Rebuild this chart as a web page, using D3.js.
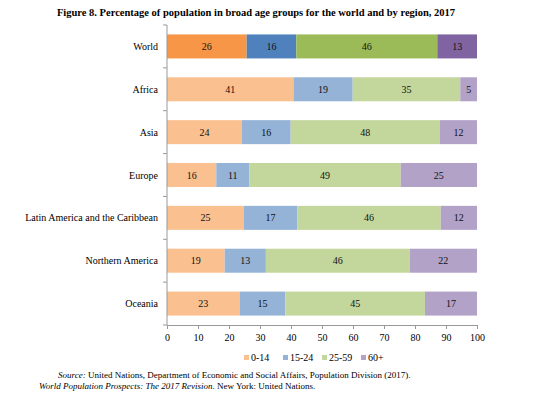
<!DOCTYPE html>
<html>
<head>
<meta charset="utf-8">
<script src="https://cdn.jsdelivr.net/npm/d3@7"></script>
<style>
  body { margin: 0; background: #fff; }
  text { font-family: "Liberation Serif", "Times New Roman", serif; }
</style>
</head>
<body>
<div id="chart"></div>
<script>

// data (percent of population)
let regions = ["World", "Africa", "Asia", "Europe", "Latin America and the Caribbean", "Northern America", "Oceania"];
let ageGroups = ["0-14", "15-24", "25-59", "60+"];
let age0to14 = [25.7, 40.8, 24.2, 15.9, 24.8, 18.6, 23.4];
let age15to24 = [16.0, 19.1, 15.7, 10.6, 17.2, 13.3, 14.8];
let age25to59 = [45.5, 34.7, 48.1, 48.9, 46.3, 46.4, 45.0];
let age60plus = [12.8, 5.4, 12.0, 24.6, 11.7, 21.7, 16.8];
let xTicks = [0, 10, 20, 30, 40, 50, 60, 70, 80, 90, 100];

let series = [age0to14, age15to24, age25to59, age60plus];

// world row is drawn darker than the regions
let darkColors = ["#F79646", "#4F81BD", "#9BBB59", "#8064A2"];
let lightColors = ["#FAC090", "#95B3D7", "#C3D69B", "#B3A2C7"];

let width = 550, height = 400;
let margin = {top: 25, right: 73, bottom: 75, left: 167};

let svg = d3.select("#chart").append("svg")
    .attr("width", width)
    .attr("height", height);

// title
svg.append("text")
    .attr("x", 256)
    .attr("y", 16)
    .attr("text-anchor", "middle")
    .attr("font-size", "10.5px")
    .attr("font-weight", "bold")
    .text("Figure 8.  Percentage of population in broad age groups for the world and by region, 2017");

let g = svg.append("g")
    .attr("transform", "translate(" + margin.left + "," + margin.top + ")");

let w = width - margin.left - margin.right,
    h = height - margin.top - margin.bottom;

let xScale = d3.scaleLinear()
    .domain([0, 100])
    .range([0, w]);

let yScale = d3.scaleBand()
    .domain(regions)
    .range([0, h])
    .paddingInner(0.44)
    .paddingOuter(0.22);

// build rows of stacked segments
let rows = regions.map((r, i) => {
    let row = {region: r};
    ageGroups.forEach((a, j) => row[a] = series[j][i]);
    return row;
});

let stack = d3.stack().keys(ageGroups);
let stacked = stack(rows);

let layers = g.selectAll(".layer")
    .data(stacked)
    .enter().append("g")
    .attr("class", "layer");

layers.selectAll("rect")
    .data((d, j) => d.map(s => ({s: s, j: j})))
    .enter().append("rect")
    .attr("x", d => xScale(d.s[0]))
    .attr("y", d => yScale(d.s.data.region))
    .attr("width", d => xScale(d.s[1]) - xScale(d.s[0]))
    .attr("height", yScale.bandwidth())
    .attr("fill", d => d.s.data.region == "World" ? darkColors[d.j] : lightColors[d.j]);

layers.selectAll("text")
    .data((d, j) => d.map(s => ({s: s, j: j})))
    .enter().append("text")
    .attr("x", d => (xScale(d.s[0]) + xScale(d.s[1])) / 2)
    .attr("y", d => yScale(d.s.data.region) + yScale.bandwidth() / 2 + 3.5)
    .attr("text-anchor", "middle")
    .attr("font-size", "10px")
    .attr("fill", "#111")
    .text(d => Math.round(d.s[1] - d.s[0]));

// x axis
let xAxis = d3.axisBottom(xScale)
    .tickValues(xTicks)
    .tickSize(4)
    .tickSizeOuter(0);

let xAxisGroup = g.append("g")
    .attr("class", "axis x-axis")
    .attr("transform", "translate(0," + h + ")")
    .call(xAxis);

xAxisGroup.select(".domain").attr("stroke", "#999");
xAxisGroup.selectAll(".tick line").attr("stroke", "#999");
xAxisGroup.selectAll(".tick text")
    .attr("font-family", "Liberation Serif, serif")
    .attr("font-size", "10px")
    .attr("fill", "#000")
    .attr("dy", "0.85em");

// y axis: line with ticks between categories
let yAxisGroup = g.append("g").attr("class", "axis y-axis");
yAxisGroup.append("line")
    .attr("x1", 0).attr("x2", 0)
    .attr("y1", 0).attr("y2", h)
    .attr("stroke", "#999");

let boundaries = d3.range(regions.length + 1).map(i => i * h / regions.length);
yAxisGroup.selectAll(".ytick")
    .data(boundaries)
    .enter().append("line")
    .attr("class", "ytick")
    .attr("x1", -4).attr("x2", 0)
    .attr("y1", d => d).attr("y2", d => d)
    .attr("stroke", "#999");

yAxisGroup.selectAll(".ylabel")
    .data(regions)
    .enter().append("text")
    .attr("class", "ylabel")
    .attr("x", -9)
    .attr("y", d => yScale(d) + yScale.bandwidth() / 2 + 3.5)
    .attr("text-anchor", "end")
    .attr("font-size", "10px")
    .text(d => d);

// legend
let legendX = [244, 283, 322, 361];
let legend = svg.append("g").attr("class", "legend");
ageGroups.forEach((a, j) => {
    legend.append("rect")
        .attr("x", legendX[j])
        .attr("y", 355)
        .attr("width", 5)
        .attr("height", 5)
        .attr("fill", lightColors[j]);
    legend.append("text")
        .attr("x", legendX[j] + 7)
        .attr("y", 361)
        .attr("font-size", "10px")
        .text(a);
});

// source note
let src1 = svg.append("text")
    .attr("x", 58)
    .attr("y", 378)
    .attr("font-size", "9px");
src1.append("tspan").attr("font-style", "italic").text("Source: ");
src1.append("tspan").text("United Nations, Department of Economic and Social Affairs, Population Division (2017).");

let src2 = svg.append("text")
    .attr("x", 39)
    .attr("y", 389)
    .attr("font-size", "9px");
src2.append("tspan").attr("font-style", "italic").text("World Population Prospects: The 2017 Revision");
src2.append("tspan").text(". New York: United Nations.");

</script>
</body>
</html>
